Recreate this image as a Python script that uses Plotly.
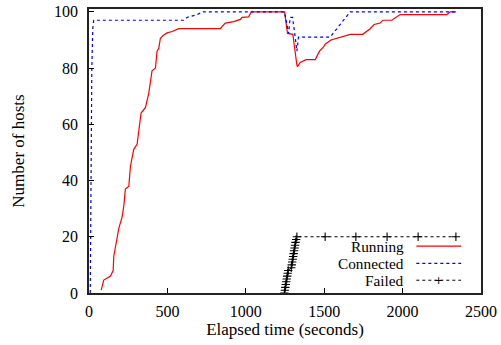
import plotly.graph_objects as go

# Running hosts (red)
run_t = [78, 94, 137, 154, 158, 179, 190, 211, 222, 232, 254, 264, 285, 307, 317, 332, 360, 370,
         381, 402, 424, 434, 445, 455, 472, 498, 530, 572, 838, 848, 869, 922, 965, 976, 1018, 1035,
         1247, 1266, 1300, 1326, 1330, 1347, 1385, 1443, 1470, 1496, 1506, 1543, 1602, 1666, 1746,
         1772, 1793, 1818, 1857, 1874, 1931, 1984, 2282, 2303, 2341]
run_v = [1, 4.6, 6, 8, 13, 19, 23, 27, 31, 37, 38, 45, 51, 53, 58, 64, 66, 69,
         71, 79, 80, 86, 87, 90.5, 91.6, 92.5, 93, 94, 94, 94.7, 96, 96.5, 97.3, 98, 98.2, 100,
         100, 92.3, 92, 81, 80.5, 82, 83, 83, 86, 87.5, 88.5, 90, 90.9, 92, 92,
         93, 94, 95.5, 96, 97, 97, 99, 99, 100, 100]

# Connected hosts (blue)
con_t = [8, 12, 18, 24, 30, 604, 625, 689, 727, 1247, 1262, 1273, 1283, 1298, 1315, 1326, 1336,
         1538, 1666, 2341]
con_v = [0, 40, 80, 94, 97, 97, 98, 99, 100, 100, 95.3, 92.3, 98, 98, 91, 86, 91,
         91, 100, 100]

# Failed hosts (black)
fail_t = [1246, 1249, 1252, 1255, 1258, 1261, 1264, 1267, 1271, 1290, 1293, 1296, 1299, 1302,
          1305, 1308, 1311, 1314, 1317, 1321, 1326, 1506, 1702, 1901, 2099, 2340]
fail_v = [0, 1, 2, 3, 4, 5, 6, 7, 8, 9, 10, 11, 12, 13,
          14, 15, 16, 17, 18, 19, 20, 20, 20, 20, 20, 20]

x_ticks = [0, 500, 1000, 1500, 2000, 2500]
y_ticks = [0, 20, 40, 60, 80, 100]

legend_names = ["Running", "Connected", "Failed"]
legend_colors = ["#ff0000", "#0000ff", "#000000"]
legend_dash = ["solid", "dot", "dot"]

FONT = "Liberation Serif"

fig = go.Figure()
fig.add_trace(go.Scatter(x=run_t, y=run_v, mode="lines", name="Running",
                         line=dict(color=legend_colors[0], width=1.2)))
fig.add_trace(go.Scatter(x=con_t, y=con_v, mode="lines", name="Connected",
                         line=dict(color=legend_colors[1], width=1.2, dash="dot")))
fig.add_trace(go.Scatter(x=fail_t, y=fail_v, mode="lines+markers", name="Failed",
                         line=dict(color=legend_colors[2], width=1, dash="dot"),
                         marker=dict(symbol="cross-thin", size=6,
                                     line=dict(color="#000000", width=1.1))))

# custom gnuplot-style legend (text then sample)
rows_y = [0.165, 0.104, 0.045]
sx0, sx1, tx = 0.835, 0.949, 0.807
for name, color, dash, yy in zip(legend_names, legend_colors, legend_dash, rows_y):
    fig.add_annotation(x=tx, y=yy, xref="paper", yref="paper", text=name, showarrow=False,
                       xanchor="right", yanchor="middle", borderpad=0,
                       font=dict(family=FONT, size=15.3, color="#000000"))
    fig.add_shape(type="line", xref="paper", yref="paper", x0=sx0, x1=sx1, y0=yy, y1=yy,
                  line=dict(color=color, width=1.2 if name != "Failed" else 1, dash=dash))
# plus marker in the Failed legend sample
mx = (sx0 + sx1) / 2
fig.add_annotation(x=mx, y=rows_y[2], xref="paper", yref="paper", text="+", showarrow=False,
                   xanchor="center", yanchor="middle", borderpad=0,
                   font=dict(family="DejaVu Sans", size=11, color="#000000"))

fig.update_layout(
    width=501, height=345,
    margin=dict(l=88.5, r=20.3, t=9, b=52.3, autoexpand=False),
    paper_bgcolor="white", plot_bgcolor="white",
    showlegend=False, hovermode=False,
    font=dict(family=FONT, size=16, color="#000000"),
)
fig.update_xaxes(range=[0, 2500], tickvals=x_ticks, ticktext=[str(v) for v in x_ticks],
                 ticks="inside", ticklen=5, tickcolor="#000000", showgrid=False, zeroline=False,
                 showline=True, linecolor="#222222", linewidth=1.5, mirror=True,
                 automargin=False, ticklabelstandoff=3, ticklabeloverflow="allow",
                 title=dict(text="Elapsed time (seconds)", font=dict(family=FONT, size=17), standoff=2))
fig.update_yaxes(range=[0, 101], tickvals=y_ticks, ticktext=[str(v) for v in y_ticks],
                 ticks="inside", ticklen=5, tickcolor="#000000", showgrid=False, zeroline=False,
                 showline=True, linecolor="#222222", linewidth=1.5, mirror=True,
                 automargin=False, ticklabelstandoff=6, ticklabeloverflow="allow",
                 title=dict(text="Number of hosts", font=dict(family=FONT, size=17), standoff=25))

# remove the browser's default 8px page margin so the figure fills the window
fig.write_html("out.html", config={"displayModeBar": False},
               post_script="document.body.style.margin='0';")
